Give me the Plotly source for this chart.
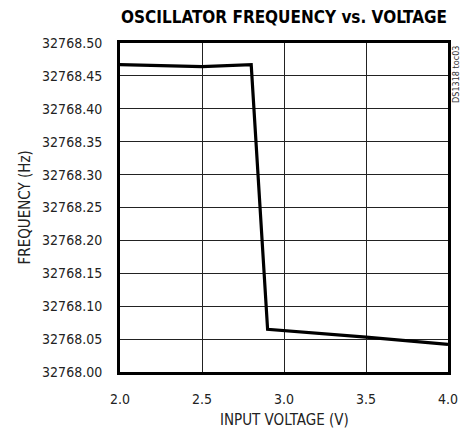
import plotly.graph_objects as go

voltage = [2.0, 2.5, 2.8, 2.9, 3.5, 4.0]
frequency = [32768.467, 32768.464, 32768.467, 32768.065, 32768.053, 32768.042]

x_ticks = [2.0, 2.5, 3.0, 3.5, 4.0]
x_tick_labels = ["2.0", "2.5", "3.0", "3.5", "4.0"]
y_ticks = [32768.00 + 0.05 * i for i in range(11)]
y_tick_labels = ["%.2f" % v for v in y_ticks]

FONT = "DejaVu Sans Condensed, Liberation Sans Narrow, Arial Narrow, sans-serif"

# page body has an 8px margin; figure is sized/offset to compensate
W, H = 463, 421
L, T, R, B = 112, 35, 23, 57
PW, PH = W - L - R, H - T - B

fig = go.Figure()
fig.add_trace(go.Scatter(x=voltage, y=frequency, mode="lines",
                         line=dict(color="black", width=3.2), showlegend=False))

fig.update_layout(
    width=W, height=H,
    margin=dict(l=L, r=R, t=T, b=B, autoexpand=False),
    paper_bgcolor="white", plot_bgcolor="white",
    font=dict(family=FONT, size=14, color="#222"),
    title=dict(text="<b>OSCILLATOR FREQUENCY vs. VOLTAGE</b>",
               font=dict(family=FONT, size=17, color="black"),
               x=(L + PW / 2) / W, xanchor="center", y=1 - 9 / H, yanchor="middle"),
    annotations=[
        dict(text="DS1318 toc03", textangle=-90,
             x=(456 - 120) / 328, y=(372 - 75) / 329,
             xref="paper", yref="paper", showarrow=False,
             xanchor="center", yanchor="middle",
             font=dict(family=FONT, size=9, color="#333")),
        dict(text="INPUT VOLTAGE (V)", x=0.5, y=(372 - 419.5) / 329,
             xref="paper", yref="paper", showarrow=False,
             xanchor="center", yanchor="middle",
             font=dict(family=FONT, size=15, color="#222")),
        dict(text="FREQUENCY (Hz)", textangle=-90, x=(24 - 120) / 328, y=0.5,
             xref="paper", yref="paper", showarrow=False,
             xanchor="center", yanchor="middle",
             font=dict(family=FONT, size=15, color="#222")),
    ],
)

fig.update_xaxes(range=[2.0, 4.0], tickvals=x_ticks, ticktext=x_tick_labels,
                 showgrid=True, gridcolor="#222", gridwidth=1,
                 showline=True, linecolor="black", linewidth=3, mirror=True,
                 ticks="", zeroline=False, ticklabelstandoff=12)
fig.update_yaxes(range=[32768.00, 32768.50], tickvals=y_ticks, ticktext=y_tick_labels,
                 showgrid=True, gridcolor="#222", gridwidth=1,
                 showline=True, linecolor="black", linewidth=3, mirror=True,
                 ticks="", zeroline=False, ticklabelstandoff=12)

fig.write_html("out.html")
